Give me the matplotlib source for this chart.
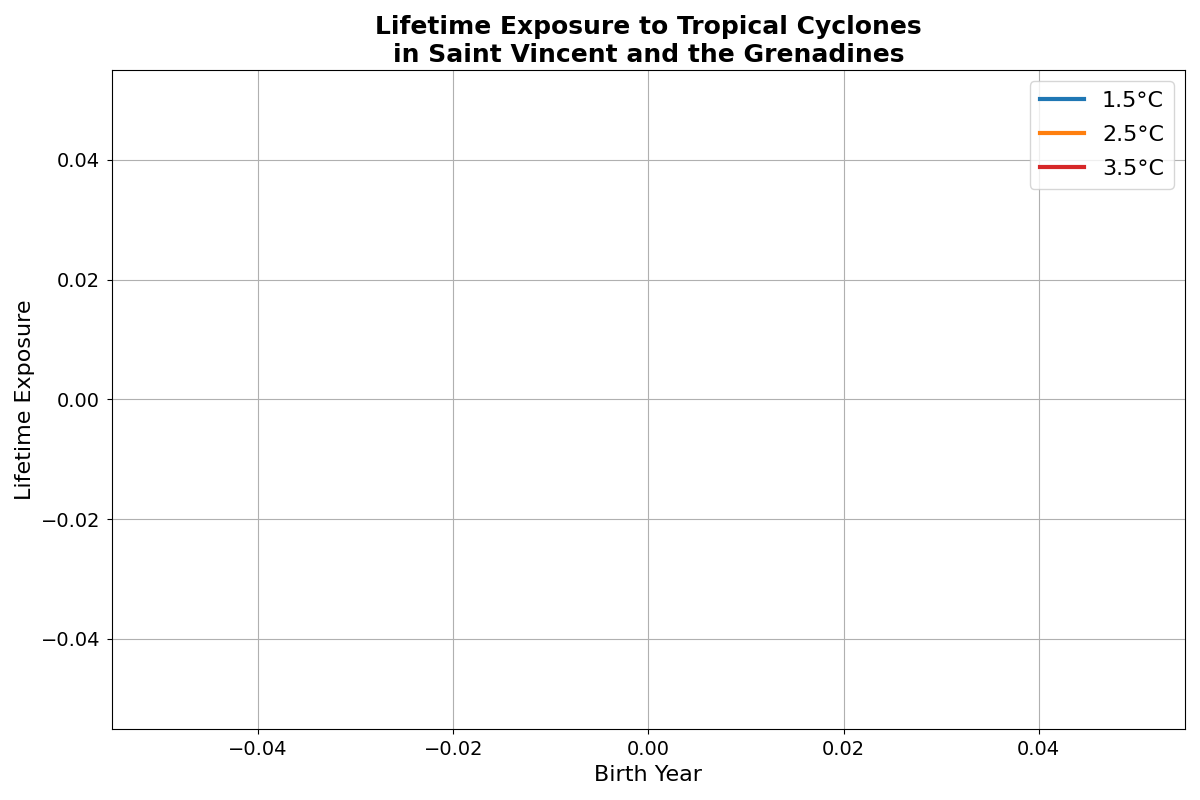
import matplotlib
matplotlib.use("Agg")
import matplotlib.pyplot as plt

# the source data for this country is empty, so every series has no points
birth_years = []
exposure_15 = []
exposure_25 = []
exposure_35 = []

scenarios = ["1.5°C", "2.5°C", "3.5°C"]
series = [exposure_15, exposure_25, exposure_35]
colors = ["tab:blue", "tab:orange", "tab:red"]

fig, ax = plt.subplots(figsize=(12, 8), dpi=100)
for label, values, color in zip(scenarios, series, colors):
    ax.plot(birth_years, values, label=label, color=color, linewidth=3)

ax.set_title("Lifetime Exposure to Tropical Cyclones\nin Saint Vincent and the Grenadines",
             fontsize=18, fontweight="bold")
ax.set_xlabel("Birth Year", fontsize=16)
ax.set_ylabel("Lifetime Exposure", fontsize=16)
ax.tick_params(labelsize=14, pad=5)
ax.grid(True)
ax.legend(fontsize=16, loc="upper right", labelspacing=0.62, borderpad=0.45)
plt.tight_layout()
plt.savefig("out.png")
